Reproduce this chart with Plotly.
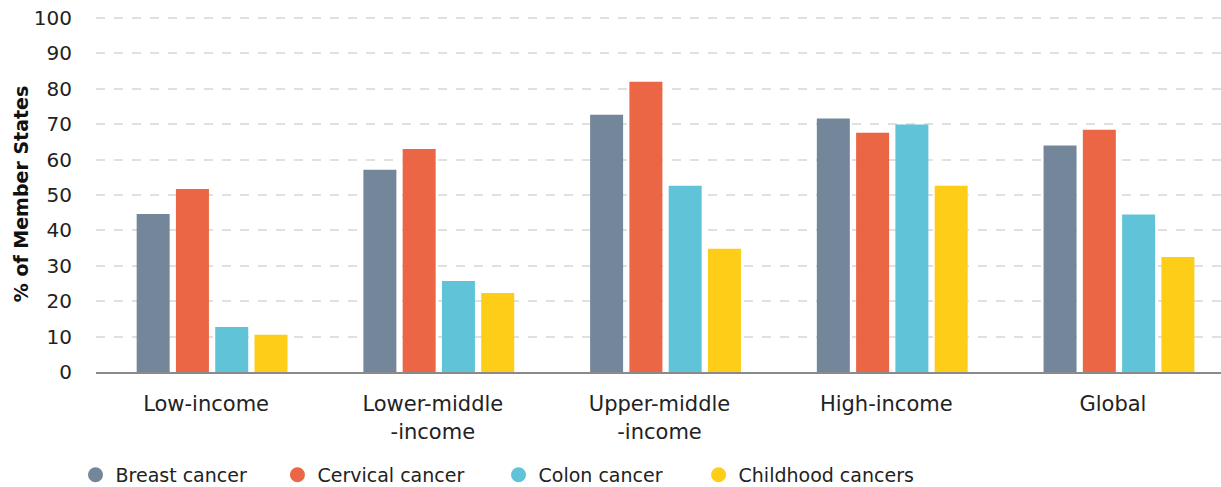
import plotly.graph_objects as go

categories = ["Low-income", "Lower-middle<br>-income", "Upper-middle<br>-income", "High-income", "Global"]
breast = [44.6, 57.1, 72.7, 71.6, 64.0]
cervical = [51.7, 63.0, 82.0, 67.6, 68.4]
colon = [12.7, 25.7, 52.6, 69.9, 44.5]
childhood = [10.5, 22.3, 34.8, 52.6, 32.5]

series_names = ["Breast cancer", "Cervical cancer", "Colon cancer", "Childhood cancers"]
series_values = [breast, cervical, colon, childhood]
colors = ["#74879A", "#EA6645", "#60C3D8", "#FDCD18"]
legend_x = [-0.0182, 0.1613, 0.3578, 0.5356]
y_ticks = list(range(0, 101, 10))

FONT = "DejaVu Sans"
fig = go.Figure()
for name, vals, col in zip(series_names, series_values, colors):
    fig.add_trace(go.Bar(x=categories, y=vals, name=name, marker_color=col,
                         marker_line_width=0, showlegend=False))

legend_ids = ["legend", "legend2", "legend3", "legend4"]
for name, col, lid in zip(series_names, colors, legend_ids):
    fig.add_trace(go.Scatter(x=[None], y=[None], mode="markers", name=name, legend=lid,
                             marker=dict(symbol="circle", size=15, color=col)))

layout_legends = {}
for lid, lx in zip(legend_ids, legend_x):
    layout_legends[lid] = dict(orientation="h", x=lx, xanchor="left", y=-0.289,
                               yanchor="middle", font=dict(size=19, color="#222"),
                               itemwidth=30, bgcolor="rgba(0,0,0,0)")

fig.update_layout(
    width=1221, height=487,
    margin=dict(l=96, r=0, t=16, b=115, autoexpand=False),
    paper_bgcolor="white", plot_bgcolor="white",
    barmode="group", bargap=0.307, bargroupgap=0.16,
    font=dict(family=FONT, color="#222", size=19),
    xaxis=dict(range=[-0.512, 4.45], showgrid=False, showline=True, linecolor="#8a8a8a",
               linewidth=2, ticks="", tickfont=dict(size=21, color="#222"),
               ticklabelstandoff=12, ticklabelshift=-6, automargin=False),
    yaxis=dict(range=[0, 100.56], tickvals=y_ticks, showgrid=True, gridcolor="#e0e0e0",
               griddash="dash", gridwidth=1.5, zeroline=False, showline=False,
               tickfont=dict(size=20, color="#222"), ticklabelstandoff=23,
               ticklabeloverflow="allow", automargin=False,
               title=dict(text="<b>% of Member States</b>", font=dict(size=19, color="#111"),
                          standoff=0)),
    **layout_legends,
)
# remove the browser's default 8px body margin so the figure fills the window exactly
fig.write_html("out.html", config={"displayModeBar": False},
               post_script="document.body.style.margin='0';document.body.style.overflow='hidden';")
